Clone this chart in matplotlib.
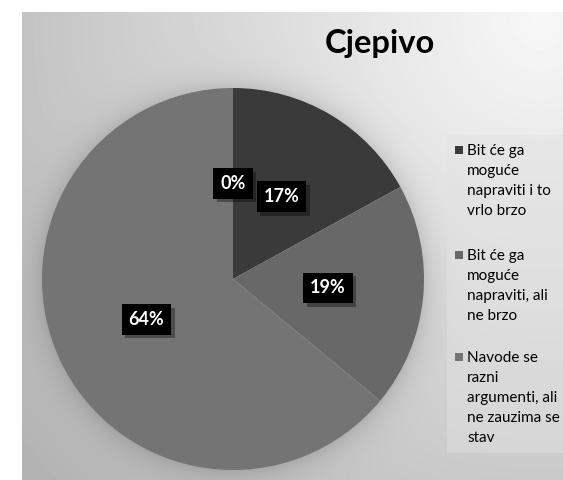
import numpy as np
import matplotlib
matplotlib.use("Agg")
import matplotlib.pyplot as plt
from matplotlib import patheffects
from matplotlib.patches import Rectangle

# ---- data ----
categories = [
    "Bit će ga moguće napraviti i to vrlo brzo",
    "Bit će ga moguće napraviti, ali ne brzo",
    "Navode se razni argumenti, ali ne zauzima se stav",
    "Ostalo",
]
shares = [17, 19, 64, 0]
legend_lines = [
    ["Bit će ga", "moguće", "napraviti i to", "vrlo brzo"],
    ["Bit će ga", "moguće", "napraviti, ali", "ne brzo"],
    ["Navode se", "razni", "argumenti, ali", "ne zauzima se", "stav"],
]
title = "Cjepivo"

slice_colors = ["#3a3a3a", "#686868", "#747474", "#8a8a8a"]

W, H = 563, 480
DPI = 100
FONT = "Lato"

# pie geometry in pixels
CX, CY, R = 233, 279, 191

fig = plt.figure(figsize=(W / DPI, H / DPI), dpi=DPI)
fig.patch.set_facecolor("white")

# ---- background: grey gradient plus soft shadow round the pie ----
bg_ax = fig.add_axes([0, 0, 1, 1])
yy, xx = np.mgrid[0:H, 0:W]
bg = 247.0 - 0.1 * np.hypot(xx - 540, yy - 20)
rr = np.hypot(xx - CX, yy - CY)
halo = 38.0 * np.exp(-np.clip(rr - 186, 0, None) / 13.0)
bg = bg - np.where(rr > 186, halo, 0)
bg = np.clip(bg, 0, 255)
bg[:, :22] = 255
bg[:12, :] = 255
bg_ax.imshow(bg, cmap="gray", vmin=0, vmax=255, extent=(0, W, H, 0),
             interpolation="bilinear", aspect="auto")
bg_ax.set_xlim(0, W)
bg_ax.set_ylim(H, 0)
bg_ax.axis("off")

# lighter panel behind the legend
bg_ax.add_patch(Rectangle((447, 135), W - 447, 453 - 135,
                          facecolor="#e2e2e2", alpha=0.45, edgecolor="none"))

# ---- pie ----
ax = fig.add_axes([(CX - R) / W, (H - CY - R) / H, 2 * R / W, 2 * R / H])
wedges, _, autotexts = ax.pie(
    shares,
    colors=slice_colors,
    startangle=90,
    counterclock=False,
    autopct="%1.0f%%",
    pctdistance=0.5,
    wedgeprops=dict(linewidth=0),
    textprops=dict(color="white", fontweight="bold", fontsize=13, family=FONT),
)
ax.set_xlim(-1, 1)
ax.set_ylim(-1, 1)

for t in autotexts:
    t.set_bbox(dict(facecolor="black", edgecolor="none", boxstyle="square,pad=0.38"))
    t.get_bbox_patch().set_path_effects([
        patheffects.SimplePatchShadow(offset=(2.5, -2.5), shadow_rgbFace="black", alpha=0.35),
        patheffects.Normal(),
    ])

# ---- title ----
fig.text(380 / W, 1 - 53 / H, title, ha="center", va="baseline",
         fontsize=23.5, fontweight="bold", family=FONT, color="black")

# ---- legend (marker beside the first line of each entry) ----
entry_top = [155, 260, 362]
line_pitch = 20
for color, lines, y0 in zip(slice_colors, legend_lines, entry_top):
    fig.patches.append(Rectangle(((455) / W, 1 - (y0 - 1) / H), 8 / W, 8 / H,
                                 transform=fig.transFigure, facecolor=color,
                                 edgecolor="none"))
    for i, line in enumerate(lines):
        fig.text(467 / W, 1 - (y0 + i * line_pitch) / H, line,
                 ha="left", va="baseline", fontsize=11, family=FONT,
                 color="black")

fig.savefig("out.png", dpi=DPI)
